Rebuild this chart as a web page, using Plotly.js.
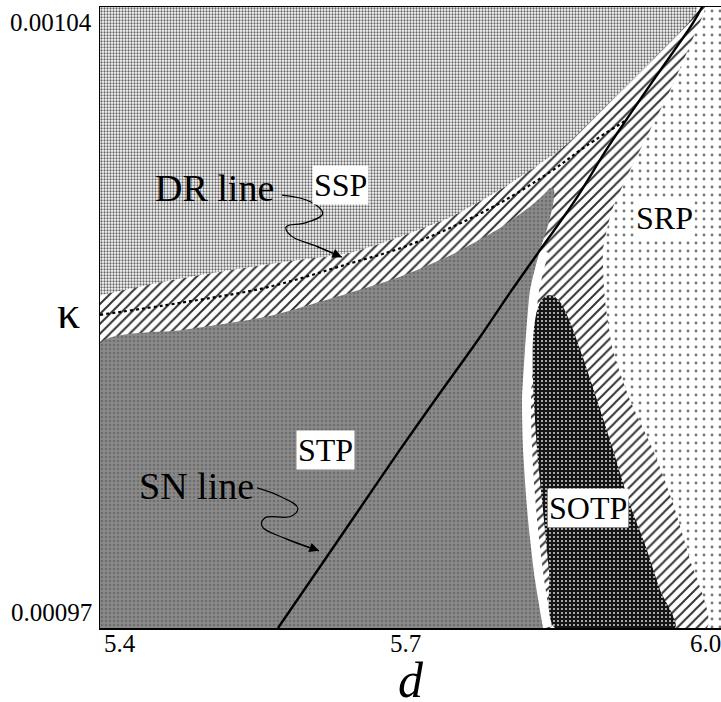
<!DOCTYPE html>
<html>
<head>
<meta charset="utf-8">
<script src="https://cdn.plot.ly/plotly-3.0.1.min.js"></script>
<style>html,body{margin:0;padding:0;background:#fff;}#chart{width:721px;height:702px;}</style>
</head>
<body>
<div id="chart"></div>
<script>
// ---- axis ranges and ticks ----
var xRange = [5.4, 6.0108];
var yRange = [0.00097, 0.00104];
var xTickVals = [5.4, 5.7, 6.0];
var xTickText = ["5.4", "5.7", "6.0"];
var yTickVals = [0.00104, 0.00097];
var yTickText = ["0.00104", "0.00097"];

// ---- SSP / hatched boundary (upper) ----
var upperD = [5.4, 5.4561, 5.4984, 5.5475, 5.5967, 5.6459, 5.6951, 5.7443, 5.7934, 5.8554, 5.8918, 5.9410, 5.9872];
var upperK = [0.0010075, 0.0010089, 0.0010098, 0.0010107, 0.0010115, 0.0010123, 0.0010141, 0.0010163, 0.0010194, 0.0010242, 0.0010282, 0.0010338, 0.00104];

// ---- hatched / SRP boundary ----
var srpD = [5.9951, 5.9803, 5.9607, 5.9410, 5.9213, 5.9036, 5.8948, 5.8967, 5.9046, 5.9213, 5.9439, 5.9626, 5.9803, 5.9970];
var srpK = [0.00104, 0.0010357, 0.0010306, 0.0010261, 0.0010216, 0.0010171, 0.0010126, 0.0010070, 0.0010013, 0.0009957, 0.0009901, 0.0009844, 0.0009777, 0.00097];

// ---- STP region ----
var stpD = [5.4, 5.4, 5.4816, 5.5643, 5.6459, 5.6951, 5.7443, 5.7934, 5.8230, 5.8377, 5.8426, 5.8466, 5.8456, 5.8407, 5.8328, 5.8230, 5.8180, 5.8151, 5.8161, 5.8210, 5.8279, 5.8357];
var stpK = [0.00097, 0.0010021, 0.0010036, 0.0010051, 0.0010078, 0.0010096, 0.0010120, 0.0010151, 0.0010175, 0.0010190, 0.0010196, 0.0010194, 0.0010177, 0.0010154, 0.0010126, 0.0010081, 0.0010013, 0.0009957, 0.0009901, 0.0009822, 0.0009754, 0.00097];

// white gap along the STP right edge
var gapD = [5.8328, 5.8230, 5.8180, 5.8151, 5.8161, 5.8210, 5.8279, 5.8357];
var gapK = [0.0010126, 0.0010081, 0.0010013, 0.0009957, 0.0009901, 0.0009822, 0.0009754, 0.00097];

// ---- SOTP region ----
var sotpD = [5.8407, 5.8338, 5.8289, 5.8259, 5.8259, 5.8279, 5.8308, 5.8357, 5.8416, 5.8475, 5.9656, 5.9508, 5.9361, 5.9213, 5.9046, 5.8889, 5.8741, 5.8623, 5.8534, 5.8466, 5.8407];
var sotpK = [0.0010075, 0.0010069, 0.0010053, 0.0010025, 0.0009980, 0.0009934, 0.0009889, 0.0009833, 0.0009765, 0.00097, 0.00097, 0.0009743, 0.0009794, 0.0009839, 0.0009901, 0.0009957, 0.0010008, 0.0010045, 0.0010066, 0.0010074, 0.0010075];

// ---- DR line (dotted) ----
var drD = [5.4, 5.4816, 5.5643, 5.6459, 5.6951, 5.7443, 5.7934, 5.8426, 5.8790, 5.9184];
var drK = [0.0010053, 0.0010067, 0.0010084, 0.0010111, 0.0010128, 0.0010151, 0.0010179, 0.0010214, 0.0010244, 0.0010273];

// ---- SN line (solid) ----
var snD = [5.5751, 5.6164, 5.6557, 5.6951, 5.7295, 5.7738, 5.8033, 5.8328, 5.8672, 5.8997, 5.9410, 5.9833, 5.9921];
var snK = [0.00097, 0.0009769, 0.0009835, 0.0009901, 0.0009957, 0.0010028, 0.0010078, 0.0010126, 0.0010182, 0.0010242, 0.0010312, 0.0010382, 0.00104];

// ---- pointer curves ----
var drArrowD = [5.5790, 5.6080, 5.6190, 5.6030, 5.5830, 5.5880, 5.6115, 5.6380];
var drArrowK = [0.0010188, 0.0010180, 0.0010167, 0.0010157, 0.0010152, 0.0010142, 0.0010131, 0.0010118];
var snArrowD = [5.5544, 5.5780, 5.5945, 5.5880, 5.5620, 5.5593, 5.5820, 5.6154];
var snArrowK = [0.0009858, 0.0009848, 0.0009835, 0.0009826, 0.0009824, 0.0009815, 0.0009801, 0.0009787];

// ---- region labels ----
var regionNames = ["SSP", "SRP", "STP", "SOTP"];
var regionD = [5.6361, 5.9557, 5.6213, 5.8800];
var regionK = [0.0010199, 0.0010162, 0.0009901, 0.0009835];
var lineNames = ["DR line", "SN line"];
var lineD = [5.5131, 5.4954];
var lineK = [0.0010196, 0.0009860];

// build polygons
var hatchD = [5.4].concat(upperD, srpD, [5.4]);
var hatchK = [0.00097].concat(upperK, srpK, [0.00097]);
var sspD = [5.4].concat(upperD.slice().reverse());
var sspK = [0.00104].concat(upperK.slice().reverse());

var traces = [
  { // SRP background
    x: [xRange[0], xRange[1], xRange[1], xRange[0], xRange[0]],
    y: [yRange[0], yRange[0], yRange[1], yRange[1], yRange[0]],
    mode: 'lines', fill: 'toself', line: {width: 0},
    fillcolor: '#ffffff',
    fillpattern: {shape: '.', size: 8, solidity: 0.1, fgcolor: '#777', bgcolor: '#ffffff'}
  },
  { // hatched region
    x: hatchD, y: hatchK, mode: 'lines', fill: 'toself', line: {width: 0, shape: 'spline', smoothing: 0.6},
    fillcolor: '#ffffff',
    fillpattern: {shape: '/', size: 7, solidity: 0.28, fgcolor: '#333', bgcolor: '#ffffff'}
  },
  { // SSP region
    x: sspD, y: sspK, mode: 'lines', fill: 'toself', line: {width: 0, shape: 'spline', smoothing: 0.6},
    fillcolor: '#ffffff',
    fillpattern: {shape: '.', size: 3, solidity: 0.45, fgcolor: '#666', bgcolor: '#ffffff'}
  },
  { // white gap
    x: gapD, y: gapK, mode: 'lines', line: {width: 18, color: '#ffffff', shape: 'spline'}
  },
  { // STP region
    x: stpD, y: stpK, mode: 'lines', fill: 'toself', line: {width: 0, shape: 'spline', smoothing: 0.6},
    fillcolor: '#858585',
    fillpattern: {shape: '.', size: 4, solidity: 0.35, fgcolor: '#6e6e6e', bgcolor: '#8a8a8a'}
  },
  { // SOTP region
    x: sotpD, y: sotpK, mode: 'lines', fill: 'toself', line: {width: 0, shape: 'spline', smoothing: 0.8},
    fillcolor: '#151515',
    fillpattern: {shape: '.', size: 4, solidity: 0.18, fgcolor: '#dddddd', bgcolor: '#151515'}
  },
  { // DR line
    x: drD, y: drK, mode: 'lines', line: {width: 2.2, color: '#000', dash: 'dot', shape: 'spline'}
  },
  { // SN line
    x: snD, y: snK, mode: 'lines', line: {width: 2.4, color: '#000', shape: 'spline'}
  },
  { x: drArrowD, y: drArrowK, mode: 'lines', line: {width: 1.2, color: '#000', shape: 'spline', smoothing: 1.2} },
  { x: snArrowD, y: snArrowK, mode: 'lines', line: {width: 1.2, color: '#000', shape: 'spline', smoothing: 1.2} }
];

var serif = '"Liberation Serif", "Times New Roman", Times, serif';
var annotations = [];
regionNames.forEach(function(n, i) {
  annotations.push({x: regionD[i], y: regionK[i], xref: 'x', yref: 'y', text: n, showarrow: false,
    font: {family: serif, size: 32, color: '#000'}, bgcolor: '#ffffff', borderpad: 1});
});
lineNames.forEach(function(n, i) {
  annotations.push({x: lineD[i], y: lineK[i], xref: 'x', yref: 'y', text: n, showarrow: false,
    font: {family: serif, size: 38, color: '#000'}});
});
// arrow heads at the tips of the pointer curves
[[drArrowD, drArrowK], [snArrowD, snArrowK]].forEach(function(p) {
  var n = p[0].length;
  annotations.push({x: p[0][n-1], y: p[1][n-1], xref: 'x', yref: 'y', ax: p[0][n-2], ay: p[1][n-2],
    axref: 'x', ayref: 'y', text: '', showarrow: true, arrowhead: 2, arrowsize: 1.6, arrowwidth: 1.2, arrowcolor: '#000'});
});
// tick labels
var xAnch = ['left', 'center', 'center'];
var xShift = [2, 0, -5];
xTickVals.forEach(function(v, i) {
  annotations.push({x: v, y: 0, xref: 'x', yref: 'paper', yanchor: 'top', xanchor: xAnch[i], xshift: xShift[i], yshift: 0,
    text: xTickText[i], showarrow: false, font: {family: serif, size: 25, color: '#000'}});
});
var yAnch = ['top', 'bottom'];
yTickVals.forEach(function(v, i) {
  annotations.push({x: 0, y: v, xref: 'paper', yref: 'y', xanchor: 'right', yanchor: yAnch[i], xshift: -6,
    text: yTickText[i], showarrow: false, font: {family: serif, size: 25, color: '#000'}});
});
// axis titles
annotations.push({x: 0.5, y: 0, xref: 'paper', yref: 'paper', yanchor: 'top', yshift: -28, xshift: 0,
  height: 44, valign: 'middle',
  text: '<i>d</i>', showarrow: false, font: {family: serif, size: 50, color: '#000'}});
annotations.push({x: 0, y: 0.5, xref: 'paper', yref: 'paper', xanchor: 'right', xshift: -18, yshift: 5,
  text: 'κ', showarrow: false, font: {family: serif, size: 46, color: '#000'}});

var layout = {
  width: 721, height: 702,
  margin: {l: 100, r: 0, t: 7, b: 74},
  paper_bgcolor: '#ffffff', plot_bgcolor: '#ffffff',
  showlegend: false, hovermode: false,
  xaxis: {range: xRange, showgrid: false, zeroline: false, showticklabels: false, ticks: '',
    showline: true, linecolor: '#000', linewidth: 1.5, mirror: true},
  yaxis: {range: yRange, showgrid: false, zeroline: false, showticklabels: false, ticks: '',
    showline: true, linecolor: '#000', linewidth: 1.5},
  annotations: annotations
};

Plotly.newPlot('chart', traces, layout, {staticPlot: true, displayModeBar: false});
</script>
</body>
</html>
